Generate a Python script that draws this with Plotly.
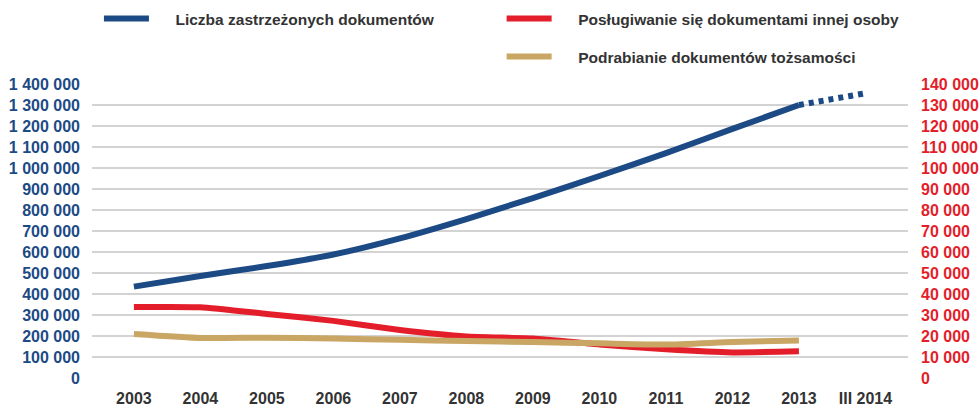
import plotly.graph_objects as go

years = ["2003", "2004", "2005", "2006", "2007", "2008", "2009", "2010", "2011", "2012", "2013", "III 2014"]
zastrzezone = [435000, 486000, 533000, 588000, 665000, 757000, 857000, 962000, 1071000, 1186000, 1300000]
zastrzezone_proj = [1300000, 1356000]
poslugiwanie = [33800, 33700, 30500, 27200, 22900, 19800, 18800, 16000, 13700, 12200, 12700]
podrabianie = [21000, 19100, 19200, 18800, 18200, 17600, 17100, 16500, 15900, 17100, 17900]

left_ticks = list(range(0, 1400001, 100000))
right_ticks = list(range(0, 140001, 10000))

BLUE = "#1C4A85"
RED = "#E31E2A"
TAN = "#C9A664"
TXT = "#333333"
PAD = "\u00a0" * 5

fig = go.Figure()
fig.add_trace(go.Scatter(
    x=years[:11], y=zastrzezone, mode="lines", name=PAD + "Liczba zastrzeżonych dokumentów",
    line=dict(color=BLUE, width=6, shape="spline", smoothing=0.5), legend="legend"))
fig.add_trace(go.Scatter(
    x=years[10:], y=zastrzezone_proj, mode="lines", showlegend=False,
    line=dict(color=BLUE, width=6, dash="5px,5px")))
fig.add_trace(go.Scatter(
    x=years[:11], y=poslugiwanie, mode="lines", name=PAD + "Posługiwanie się dokumentami innej osoby",
    line=dict(color=RED, width=6, shape="spline", smoothing=0.5), yaxis="y2", legend="legend2"))
fig.add_trace(go.Scatter(
    x=years[:11], y=podrabianie, mode="lines", name=PAD + "Podrabianie dokumentów tożsamości",
    line=dict(color=TAN, width=6, shape="spline", smoothing=0.5), yaxis="y2", legend="legend3"))

legend_common = dict(font=dict(family="Liberation Sans", size=15.5, color=TXT, weight="bold"),
                     bgcolor="rgba(0,0,0,0)", itemwidth=45, xanchor="left", yanchor="middle",
                     orientation="h", tracegroupgap=0, itemclick=False)

fig.update_layout(
    width=980, height=406,
    margin=dict(l=92, r=72, t=84, b=28, autoexpand=False),
    plot_bgcolor="white", paper_bgcolor="white",
    separators=", ",
    font=dict(family="Liberation Sans", size=16, color=TXT),
    xaxis=dict(type="category", categoryorder="array", categoryarray=years,
               range=[-0.63, 11.64], showgrid=False, showline=False, zeroline=False,
               tickfont=dict(size=16, color=TXT, weight="bold"), ticks="", ticklabelstandoff=9),
    yaxis=dict(range=[0, 1400000], tickvals=left_ticks, tickformat=",d",
               showgrid=True, gridcolor="#D3D3D3", gridwidth=1.5, zeroline=False, showline=False,
               tickfont=dict(size=16, color=BLUE, weight="bold"), ticks="", ticklabelstandoff=11),
    yaxis2=dict(range=[0, 140000], tickvals=right_ticks, tickformat=",d", overlaying="y", side="right",
                showgrid=False, zeroline=False, showline=False,
                tickfont=dict(size=16, color=RED, weight="bold"), ticks="", ticklabelstandoff=12),
    legend=dict(x=0.0085, y=1.221, **legend_common),
    legend2=dict(x=0.502, y=1.221, **legend_common),
    legend3=dict(x=0.502, y=1.092, **legend_common),
    showlegend=True,
)

fig.write_html("out.html", config={"displayModeBar": False},
               post_script="document.body.style.margin='0px';document.body.style.overflow='hidden';")
